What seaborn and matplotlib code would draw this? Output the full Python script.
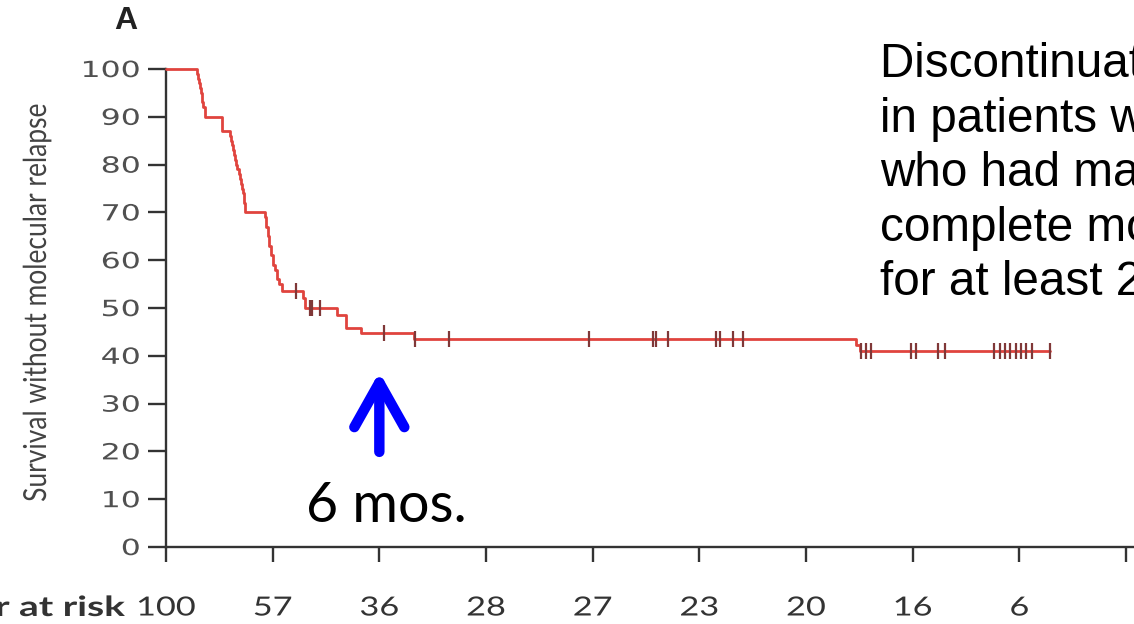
import numpy as np
import pandas as pd
import matplotlib
matplotlib.use("Agg")
import matplotlib.pyplot as plt
import seaborn as sns
from matplotlib.patheffects import AbstractPathEffect
from matplotlib.transforms import Affine2D, blended_transform_factory

# Kaplan-Meier curve: survival without molecular relapse (%) by month
step_months = [0, 0.87, 0.90, 0.93, 0.96, 0.99, 1.02, 1.05, 1.09, 1.57,
               1.80, 1.83, 1.86, 1.89, 1.92, 1.95, 1.98, 2.01, 2.04, 2.07,
               2.10, 2.13, 2.16, 2.19, 2.22, 2.78, 2.82, 2.86, 2.90, 2.95,
               3.00, 3.06, 3.12, 3.18, 3.25, 3.84, 3.90, 4.82, 5.05, 5.49,
               6.98, 19.40, 19.52, 24.87]
step_survival = [100, 99, 98, 97, 96, 95, 93, 92, 90, 87,
                 86, 85, 84, 83, 82, 81, 80, 79, 78, 77,
                 76, 75, 74, 72, 70, 69, 67, 65, 63, 61,
                 59, 58, 56, 55, 53.5, 52, 50, 48.6, 45.9, 44.7,
                 43.6, 42.3, 41.0, 41.0]

# censored patients (months)
censor_months = [3.67, 4.04, 4.12, 4.34, 6.14, 7.00, 7.96, 11.89, 13.71, 13.79,
                 14.13, 15.48, 15.59, 15.95, 16.23, 19.56, 19.68, 19.82, 20.94,
                 21.08, 21.70, 21.90, 23.30, 23.45, 23.60, 23.75, 23.90, 24.05,
                 24.20, 24.35, 24.87]

risk_months = [0, 3, 6, 9, 12, 15, 18, 21, 24, 27]
number_at_risk = [100, 57, 36, 28, 27, 23, 20, 16, 6]
y_ticks = [0, 10, 20, 30, 40, 50, 60, 70, 80, 90, 100]

title_lines = ["Discontinuation of imatinib",
               "in patients with CML",
               "who had maintained",
               "complete molecular remission",
               "for at least 2 years"]
arrow_label = "6 mos."
arrow_month = 6

assert len(step_months) == len(step_survival)

curve = pd.DataFrame({"month": step_months, "survival": step_survival})
idx = np.searchsorted(step_months, censor_months, side="right") - 1
censors = pd.DataFrame({"month": censor_months,
                        "survival": np.asarray(step_survival)[idx]})


class HStretch(AbstractPathEffect):
    """Widen glyphs horizontally around an anchor of the text's extent."""

    def __init__(self, sx, anchor="right"):
        super().__init__()
        self.sx = sx
        self.anchor = anchor

    def draw_path(self, renderer, gc, tpath, affine, rgbFace=None):
        bb = tpath.get_extents(affine)
        if self.anchor == "right":
            x0 = bb.x1
        elif self.anchor == "left":
            x0 = bb.x0
        else:
            x0 = 0.5 * (bb.x0 + bb.x1)
        t = affine + Affine2D().translate(-x0, 0).scale(self.sx, 1).translate(x0, 0)
        renderer.draw_path(gc, tpath, t, rgbFace)


sns.set_theme(style="white")
plt.rcParams["font.family"] = ["DejaVu Sans"]

W, H = 1134, 624
fig = plt.figure(figsize=(W / 100, H / 100), dpi=100)
fig.patch.set_facecolor("white")


def fx(x):
    return x / W


def fy(y):
    return 1 - y / H


x0_px, y0_px, ytop_px = 166, 547, 69
px_per_3mo = 106.67
ax = fig.add_axes([fx(x0_px), fy(y0_px), (W - x0_px) / W, (y0_px - ytop_px) / H])
ax.set_facecolor("white")

sns.lineplot(data=curve, x="month", y="survival", ax=ax, drawstyle="steps-post",
             estimator=None, sort=False, color="#E0443E", linewidth=2.0,
             clip_on=False, zorder=3)
sns.scatterplot(data=censors, x="month", y="survival", ax=ax, marker="|",
                s=130, color="#803838", linewidth=1.6, zorder=4, clip_on=False)

ax.set_xlim(0, (W - x0_px) / px_per_3mo * 3)
ax.set_ylim(0, 100)
ax.set_xticks(risk_months)
ax.set_yticks(y_ticks)
ax.set_yticklabels([str(v) for v in y_ticks])
ax.set_xlabel("")
ax.set_ylabel("")
for side in ("top", "right"):
    ax.spines[side].set_visible(False)
for side in ("left", "bottom"):
    ax.spines[side].set_color("#333333")
    ax.spines[side].set_linewidth(1.7)
ax.tick_params(axis="x", direction="out", length=11, width=1.7, color="#333333",
               labelbottom=False, bottom=True)
ax.tick_params(axis="y", direction="out", length=13, width=1.7, color="#333333",
               pad=5.5, labelsize=16, labelcolor="#505050", left=True)
for lbl in ax.get_yticklabels():
    lbl.set_fontfamily("DejaVu Sans")
    lbl.set_path_effects([HStretch(1.42, "right")])

# y-axis title
fig.text(fx(37), fy(302), "Survival without molecular relapse", rotation=90,
         ha="center", va="center", fontsize=19, family=["Lato", "DejaVu Sans"],
         color="#444444", path_effects=[HStretch(1.2, "center")])

# panel letter
fig.text(fx(126), fy(21), "A", ha="center", va="center", fontsize=23,
         fontweight="bold", family=["Liberation Sans", "DejaVu Sans"], color="#222222")

# number at risk row
risk_tr = blended_transform_factory(ax.transData, fig.transFigure)
for m, n in zip(risk_months, number_at_risk):
    ax.text(m, fy(608), str(n), transform=risk_tr, ha="center", va="center",
            fontsize=19, family=["Lato", "DejaVu Sans"], color="#333333",
            path_effects=[HStretch(1.3, "center")])
fig.text(fx(125), fy(608), "Number at risk", ha="right", va="center", fontsize=20,
         fontweight="bold", family=["Lato", "DejaVu Sans"], color="#333333",
         path_effects=[HStretch(1.4, "right")])

# annotation text block
for i, line in enumerate(title_lines):
    fig.text(fx(880), fy(77 + i * 54.5), line, ha="left", va="baseline",
             fontsize=34.3, family=["Liberation Sans", "DejaVu Sans"], color="black")

# arrow marking 6 months
ax.annotate("", xy=(arrow_month, 36.6), xytext=(arrow_month, 19.9),
            xycoords="data", textcoords="data",
            arrowprops=dict(arrowstyle="->,head_length=32,head_width=18",
                            mutation_scale=1, color="#0000FF", lw=7.5,
                            capstyle="round", joinstyle="round",
                            shrinkA=0, shrinkB=0),
            annotation_clip=False, zorder=5)
fig.text(fx(306), fy(522), arrow_label, ha="left", va="baseline", fontsize=40,
         family=["Lato", "DejaVu Sans"], color="black")

fig.savefig("out.png", dpi=100, facecolor="white")
